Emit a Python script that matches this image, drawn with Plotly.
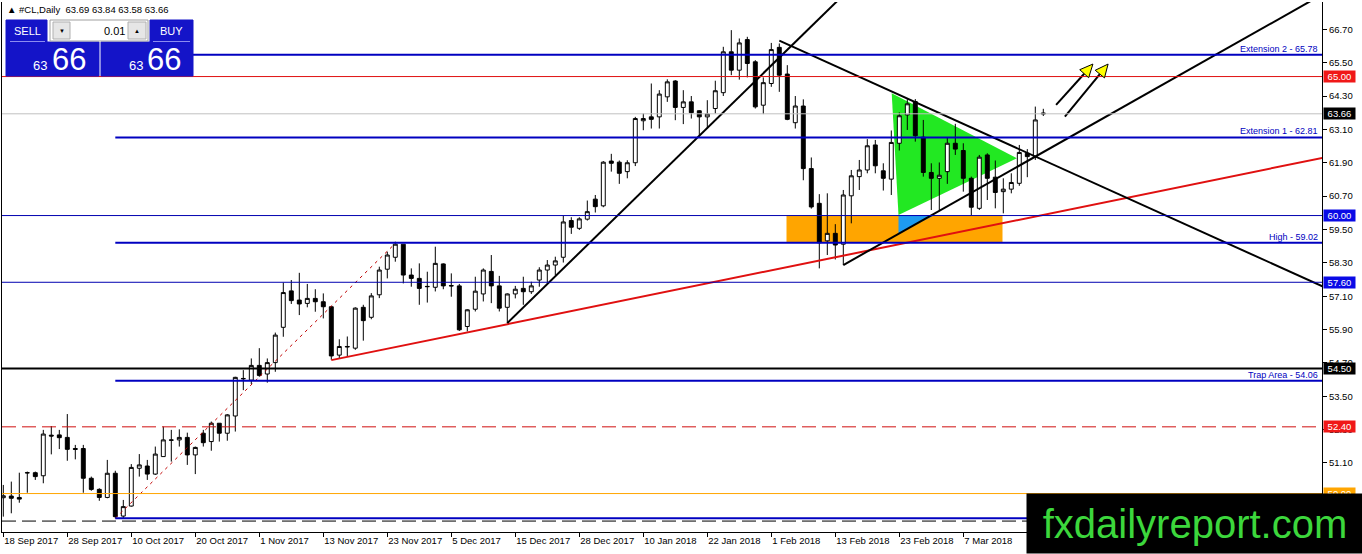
import numpy as np
import plotly.graph_objects as go

# ---- daily candles, #CL (bar 0 = 18 Sep 2017) ----
opens = [49.85, 49.91, 49.86, 50.74, 50.75, 50.64, 52.10, 52.11, 52.02, 51.62,
         51.62, 50.55, 50.15, 49.86, 50.73, 49.19, 49.55, 50.91, 50.99, 50.70,
         51.33, 51.93, 51.93, 52.02, 51.39, 52.17, 51.87, 52.53, 52.17, 52.79,
         54.14, 54.08, 54.61, 54.30, 54.71, 55.98, 57.29, 56.96, 56.84, 57.02,
         56.90, 56.72, 54.98, 55.27, 55.23, 56.70, 56.34, 57.15, 58.07, 58.50,
         58.97, 57.86, 57.74, 57.44, 57.42, 58.26, 57.48, 57.47, 56.01, 56.63,
         57.18, 57.99, 57.47, 56.70, 57.18, 57.38, 57.26, 57.68, 58.04, 58.22,
         58.50, 59.82, 59.54, 59.87, 60.59, 60.35, 61.96, 61.92, 61.58, 61.90,
         63.41, 63.55, 63.55, 64.27, 64.84, 63.89, 64.09, 63.77, 63.55, 63.85,
         64.42, 65.89, 65.23, 66.33, 65.53, 63.97, 64.75, 66.05, 65.09, 63.34,
         63.94, 61.69, 60.44, 59.09, 59.36, 58.97, 60.71, 61.40, 61.64, 62.54,
         61.61, 61.31, 62.60, 63.62, 64.10, 62.82, 61.55, 61.34, 61.58, 62.60,
         62.34, 61.34, 60.26, 62.18, 61.38, 60.86, 60.95, 61.16, 62.24, 62.12,
         63.69]
highs = [50.31, 50.43, 50.75, 50.79, 50.79, 52.29, 52.43, 52.29, 52.86, 51.75,
         51.75, 50.61, 50.19, 51.21, 50.82, 49.77, 51.06, 51.42, 51.21, 51.69,
         52.41, 52.29, 52.31, 52.19, 51.69, 52.29, 52.59, 52.53, 52.86, 54.20,
         54.44, 54.86, 55.23, 54.86, 55.79, 57.59, 57.68, 57.94, 57.54, 57.35,
         57.20, 56.75, 55.55, 55.65, 56.70, 56.79, 57.21, 58.16, 58.70, 59.06,
         58.97, 58.10, 58.28, 57.98, 58.88, 58.28, 57.92, 57.54, 56.63, 57.80,
         58.10, 58.58, 57.83, 57.20, 57.47, 57.80, 57.62, 58.14, 58.40, 58.52,
         59.99, 59.94, 59.94, 60.54, 60.74, 61.96, 62.22, 61.98, 61.99, 63.55,
         63.67, 64.75, 64.51, 64.90, 64.87, 64.51, 64.30, 63.79, 64.15, 64.85,
         66.07, 66.67, 66.37, 66.43, 65.59, 64.97, 66.21, 66.19, 65.41, 64.30,
         64.18, 62.09, 60.77, 60.80, 59.69, 60.92, 61.64, 62.00, 62.75, 62.72,
         61.88, 63.06, 63.71, 64.19, 64.19, 63.44, 61.88, 61.91, 62.82, 63.30,
         62.60, 61.40, 62.18, 62.24, 61.98, 61.34, 61.52, 62.54, 62.39, 63.92,
         63.84]
lows = [49.17, 49.29, 49.67, 50.03, 50.49, 50.37, 51.41, 51.60, 51.18, 51.23,
        50.03, 50.10, 49.74, 49.83, 49.11, 49.11, 49.53, 50.61, 50.49, 50.67,
        51.33, 51.15, 51.69, 51.03, 50.70, 51.69, 51.54, 51.87, 51.90, 52.23,
        53.72, 53.94, 54.20, 53.99, 54.38, 55.64, 56.82, 56.42, 56.70, 56.54,
        56.30, 54.81, 54.87, 54.93, 55.17, 55.50, 56.27, 57.03, 57.74, 58.34,
        57.56, 57.44, 56.79, 56.87, 57.27, 57.35, 57.08, 55.85, 55.83, 56.55,
        56.91, 56.85, 56.55, 56.13, 57.02, 56.79, 57.18, 57.44, 57.59, 57.86,
        58.31, 59.34, 59.48, 59.82, 60.11, 60.30, 61.58, 61.14, 61.34, 61.78,
        63.07, 63.13, 63.13, 64.09, 63.43, 63.29, 63.49, 62.83, 63.13, 63.67,
        64.30, 65.05, 64.89, 64.97, 63.85, 63.65, 64.63, 64.45, 63.43, 63.13,
        61.27, 60.25, 58.10, 58.58, 58.42, 58.22, 59.72, 60.92, 61.52, 61.52,
        60.90, 60.74, 62.34, 63.08, 62.66, 61.40, 60.20, 60.20, 61.14, 62.18,
        60.86, 59.99, 60.20, 60.56, 60.26, 60.08, 60.80, 61.07, 61.38, 62.00,
        63.58]
closes = [49.92, 49.83, 49.80, 50.75, 50.61, 52.14, 52.07, 52.01, 51.59, 51.59,
          50.55, 50.15, 49.86, 50.73, 49.17, 49.53, 50.94, 51.03, 50.70, 51.42,
          51.93, 51.92, 52.02, 51.39, 51.66, 51.83, 52.53, 52.17, 52.83, 54.18,
          54.13, 54.61, 54.25, 54.71, 55.70, 57.23, 56.94, 56.82, 57.02, 56.90,
          56.72, 54.95, 55.29, 55.29, 56.67, 56.22, 57.11, 58.04, 58.58, 58.97,
          57.86, 57.74, 57.38, 57.45, 58.28, 57.47, 57.47, 55.89, 56.61, 57.28,
          58.04, 57.47, 56.67, 57.18, 57.35, 57.26, 57.47, 58.04, 58.22, 58.37,
          59.77, 59.58, 59.88, 60.14, 60.32, 61.92, 61.88, 61.52, 61.90, 63.49,
          63.49, 63.46, 64.37, 64.81, 63.89, 64.09, 63.70, 63.55, 63.65, 64.49,
          65.89, 65.23, 66.21, 65.47, 63.91, 64.78, 65.97, 65.05, 63.46, 63.94,
          61.69, 60.31, 59.02, 59.36, 58.94, 60.74, 61.43, 61.64, 62.51, 61.79,
          61.34, 62.63, 63.59, 64.02, 62.87, 61.55, 61.34, 61.45, 62.60, 62.39,
          61.34, 60.30, 62.10, 61.34, 60.83, 60.95, 61.19, 62.27, 62.12, 63.44,
          63.66]
bars = list(range(len(opens)))

tick_labels = ["18 Sep 2017", "28 Sep 2017", "10 Oct 2017", "20 Oct 2017", "1 Nov 2017",
               "13 Nov 2017", "23 Nov 2017", "5 Dec 2017", "15 Dec 2017", "28 Dec 2017",
               "10 Jan 2018", "22 Jan 2018", "1 Feb 2018", "13 Feb 2018", "23 Feb 2018",
               "7 Mar 2018"]
tick_bars = bars[::8][:len(tick_labels)]
price_ticks = [49.90, 51.10, 52.30, 53.50, 54.70, 55.90, 57.10, 58.30,
               59.50, 60.70, 61.90, 63.10, 64.30, 65.50, 66.70]

# horizontal levels across the whole chart
full_levels = [65.00, 63.66, 60.00, 57.60, 54.50, 52.40, 50.00, 49.01]
# levels with a coloured tag on the price axis
tag_levels = [65.00, 63.66, 60.00, 57.60, 54.50, 52.40, 50.00]
# extension levels drawn from bar 14 onwards
ext_start = 14
ext_levels = [65.78, 62.81, 59.02, 54.06, 49.11]
ext_names = ["Extension 2", "Extension 1", "High", "Trap Area", ""]

# trend lines (bar index, price)
support_bars, support_prices = [41, 166], [54.80, 62.14]
rise_bars, rise_prices = [63, 106], [56.13, 68.21]
tri_top_bars, tri_top_prices = [97, 166], [66.29, 57.31]
tri_bot_bars, tri_bot_prices = [105, 164], [58.22, 67.81]
dot_bars, dot_prices = [14, 49], [49.11, 59.00]

# zones
zone_bars, zone_prices = [97.9, 124.9], [59.02, 60.00]
green_bars, green_prices = [111.05, 111.9, 126.7], [64.40, 60.02, 62.06]
blue_bars, blue_prices = [111.9, 116.46, 111.9], [60.02, 60.02, 59.36]

# up arrows
arrow_tail_bars, arrow_tail_prices = [131.6, 132.7], [63.98, 63.56]
arrow_tip_bars, arrow_tip_prices = [136.2, 138.1], [65.45, 65.45]

# ---- styling ----
W, H = 1362, 554
ML, MR, MT, MB = 2, 40, 2, 22
PW, PH = W - ML - MR, H - MT - MB
x_range = [-0.1625, 164.8375]
y_range = [48.617, 67.682]
px_bar = PW / (x_range[1] - x_range[0])
px_usd = PH / (y_range[1] - y_range[0])

BLUE = "#0000C0"
full_colors = ["#E01010", "#C0C0C0", "#0000B0", "#0000B0", "#000000", "#D01010", "#FFA500", "#000000"]
full_widths = [1, 1, 1, 1, 2, 1, 1, 1]
full_dash = ["solid", "solid", "solid", "solid", "solid", "14px,6px", "solid", "14px,6px"]
tag_colors = ["#F01818", "#000000", "#0A0AE6", "#0A0AE6", "#000000", "#F01818", "#FFA500"]
FONT = "Liberation Sans"


def pxx(x):
    return (x - ML) / PW


def pxy(y):
    return (H - MB - y) / PH


fig = go.Figure()

fig.add_trace(go.Candlestick(
    x=bars, open=opens, high=highs, low=lows, close=closes,
    increasing=dict(line=dict(color="black", width=1), fillcolor="white"),
    decreasing=dict(line=dict(color="black", width=1), fillcolor="black"),
    whiskerwidth=0, showlegend=False, hoverinfo="skip"
))

# filled zones under the candles
fig.add_shape(type="rect", x0=zone_bars[0], x1=zone_bars[1], y0=zone_prices[0], y1=zone_prices[1],
              fillcolor="#FFA500", line=dict(width=0), layer="below")


def poly(xs, ys):
    return "M " + " L ".join(f"{a},{b}" for a, b in zip(xs, ys)) + " Z"


fig.add_shape(type="path", path=poly(green_bars, green_prices), fillcolor="#22E822",
              line=dict(width=0), layer="below")
fig.add_shape(type="path", path=poly(blue_bars, blue_prices), fillcolor="#1E9BF0",
              line=dict(width=0), layer="below")

# horizontal levels
for lvl, c, w, d in zip(full_levels, full_colors, full_widths, full_dash):
    fig.add_shape(type="line", xref="paper", x0=0, x1=1, y0=lvl, y1=lvl,
                  line=dict(color=c, width=w, dash=d), layer="above")
for lvl, name in zip(ext_levels, ext_names):
    fig.add_shape(type="line", x0=ext_start, x1=x_range[1], y0=lvl, y1=lvl,
                  line=dict(color=BLUE, width=2), layer="above")
    if name:
        fig.add_annotation(xref="paper", x=1, xanchor="right", xshift=-2, y=lvl, yanchor="bottom",
                           yshift=-1, text=f"{name} - {lvl:.2f}", showarrow=False,
                           font=dict(family=FONT, size=9, color=BLUE))

# trend lines
for xs, ys, col, wd, dash in [
    (support_bars, support_prices, "#E01010", 2, "solid"),
    (rise_bars, rise_prices, "black", 2, "solid"),
    (tri_top_bars, tri_top_prices, "black", 2, "solid"),
    (tri_bot_bars, tri_bot_prices, "black", 2, "solid"),
    (dot_bars, dot_prices, "#C00000", 1, "3px,4px"),
]:
    fig.add_trace(go.Scatter(x=xs, y=ys, mode="lines", line=dict(color=col, width=wd, dash=dash),
                             showlegend=False, hoverinfo="skip"))

# arrows with yellow heads
for tx, ty, hx, hy in zip(arrow_tail_bars, arrow_tail_prices, arrow_tip_bars, arrow_tip_prices):
    dx, dy = (hx - tx) * px_bar, (hy - ty) * px_usd
    ln = np.hypot(dx, dy)
    ux, uy = dx / ln, dy / ln
    bx, by = hx - 13 * ux / px_bar, hy - 13 * uy / px_usd
    nx, ny = -uy, ux
    fig.add_trace(go.Scatter(x=[tx, bx], y=[ty, by], mode="lines", line=dict(color="black", width=2),
                             showlegend=False, hoverinfo="skip"))
    c1 = (bx + 6 * nx / px_bar, by + 6 * ny / px_usd)
    c2 = (bx - 6 * nx / px_bar, by - 6 * ny / px_usd)
    fig.add_shape(type="path", path=poly([hx, c1[0], c2[0]], [hy, c1[1], c2[1]]),
                  fillcolor="#FFFF00", line=dict(color="black", width=1), layer="above")

# price tags on the axis
for lvl, c in zip(tag_levels, tag_colors):
    fig.add_annotation(xref="paper", x=1, xanchor="left", xshift=1, y=lvl, yanchor="middle",
                       text=f"{lvl:.2f}", showarrow=False, bgcolor=c, width=31, height=11,
                       borderpad=0, font=dict(family=FONT, size=9.5, color="white"))

# header text
fig.add_annotation(xref="paper", yref="paper", x=pxx(5), y=pxy(10), xanchor="left", yanchor="middle",
                   text="▲ #CL,Daily  63.69 63.84 63.58 63.66", showarrow=False,
                   font=dict(family=FONT, size=9.5, color="black"))

# one-click trading panel
PANEL = "#1414C8"
panel_boxes = [
    (6, 20, 47, 42, PANEL, PANEL),
    (150, 20, 193, 42, PANEL, PANEL),
    (6, 42, 99, 76, PANEL, PANEL),
    (101, 42, 193, 76, PANEL, PANEL),
    (50, 20, 148, 41, "white", "#A0A0A0"),
    (53, 22, 70, 39, "#E6E6E6", "#B0B0B0"),
    (128, 22, 146, 39, "#E6E6E6", "#B0B0B0"),
]
for x0, y0, x1, y1, fc, lc in panel_boxes:
    fig.add_shape(type="rect", xref="paper", yref="paper", x0=pxx(x0), x1=pxx(x1),
                  y0=pxy(y1), y1=pxy(y0), fillcolor=fc, line=dict(color=lc, width=1), layer="above")
for x0, x1 in [(10, 45), (153, 190)]:
    fig.add_shape(type="line", xref="paper", yref="paper", x0=pxx(x0), x1=pxx(x1),
                  y0=pxy(41.5), y1=pxy(41.5), line=dict(color="#8C8CF0", width=1), layer="above")
panel_text = [
    (27, 31, "SELL", 11, "white"), (171, 31, "BUY", 11, "white"),
    (114, 31, "0.01", 11, "black"), (61.5, 31, "▼", 6, "black"), (137, 31, "▲", 6, "black"),
    (40, 66, "63", 13, "white"), (69, 60, "66", 31, "white"),
    (136, 66, "63", 13, "white"), (164, 60, "66", 31, "white"),
]
for x, y, t, s, c in panel_text:
    fig.add_annotation(xref="paper", yref="paper", x=pxx(x), y=pxy(y), text=t, showarrow=False,
                       xanchor="center", yanchor="middle", font=dict(family=FONT, size=s, color=c))

# watermark
fig.add_annotation(xref="paper", yref="paper", x=pxx(1026), y=pxy(554), xanchor="left", yanchor="bottom",
                   text="fxdailyreport.com", showarrow=False, bgcolor="black", width=336, height=59,
                   borderpad=0, align="center", valign="middle",
                   font=dict(family=FONT, size=40, color="#3CD73C"))

fig.update_layout(
    width=W, height=H,
    margin=dict(l=ML, r=MR, t=MT, b=MB),
    paper_bgcolor="white", plot_bgcolor="white",
    showlegend=False,
    font=dict(family=FONT, size=9.5, color="black"),
    xaxis=dict(range=x_range, showgrid=False, zeroline=False, showline=True, linecolor="black",
               linewidth=1, ticks="outside", ticklen=4, tickcolor="black",
               tickvals=tick_bars, ticktext=tick_labels, ticklabelposition="outside right",
               tickfont=dict(family=FONT, size=9.5), rangeslider=dict(visible=False),
               automargin=False, fixedrange=True),
    yaxis=dict(range=y_range, side="right", showgrid=False, zeroline=False, showline=True,
               linecolor="black", linewidth=1, mirror=True, ticks="outside", ticklen=4,
               tickcolor="black", tickvals=price_ticks, ticktext=[f"{p:.2f}" for p in price_ticks],
               tickfont=dict(family=FONT, size=9.5), automargin=False, fixedrange=True),
)

# the page's default body margin would shift the chart by 8px
fig.write_html("out.html", config={"displayModeBar": False},
               post_script="document.body.style.margin='0';document.body.style.overflow='hidden';")
